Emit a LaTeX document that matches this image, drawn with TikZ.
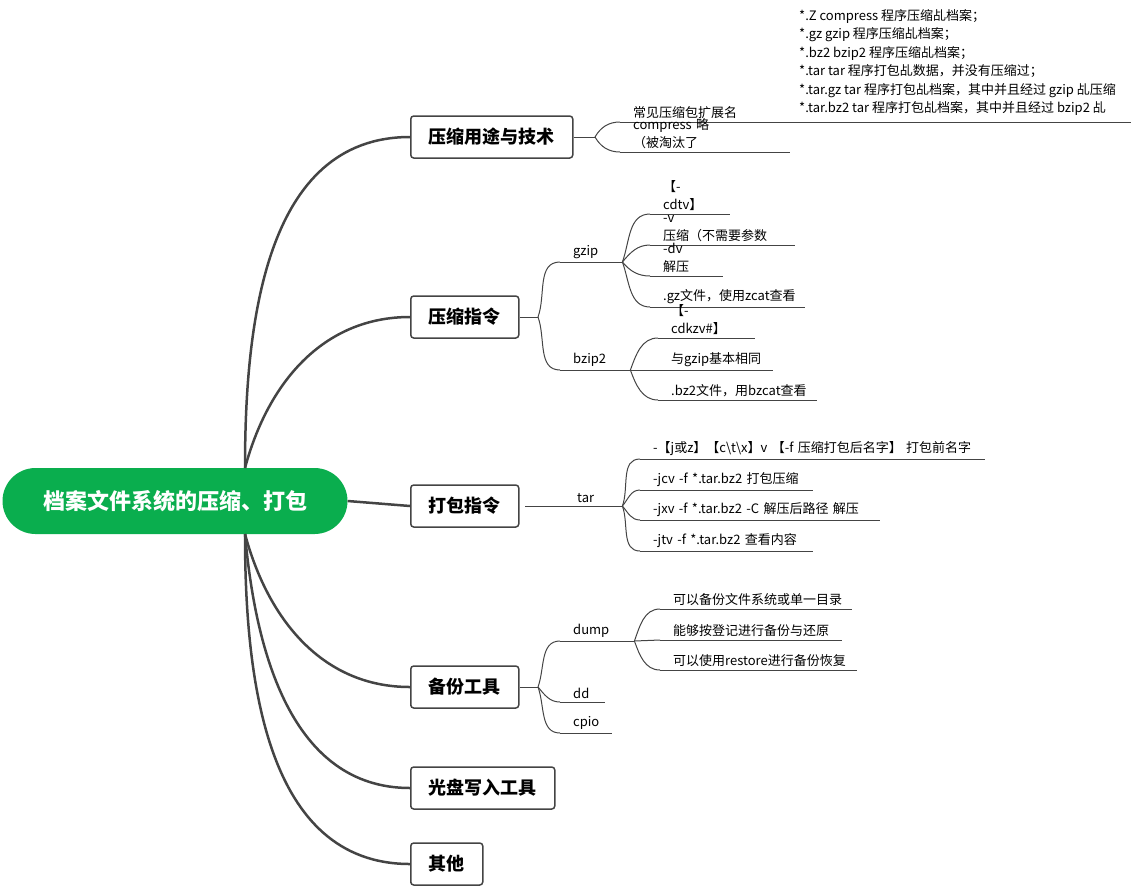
\documentclass[tikz,border=0pt]{standalone}
\usepackage{fontspec}
\setmainfont{Noto Sans CJK SC}
\definecolor{rootgreen}{HTML}{0AAE4E}
\definecolor{linegray}{HTML}{444444}
\tikzset{
  trunk/.style={draw=linegray, line width=2.5pt},
  branch/.style={draw=linegray, line width=1pt},
  topic/.style={draw=linegray, line width=1.5pt, rounded corners=3pt, minimum height=42pt, inner xsep=18pt, font=\fontsize{18}{20}\selectfont\bfseries, anchor=west},
  leaf/.style={anchor=south west, inner xsep=13pt, inner ysep=3pt, align=left, font=\fontsize{13}{18.5}\selectfont},
}
\newcommand{\leaf}[5]{%
  \pgfmathsetlengthmacro{\leafw}{(#3-#2-26)*1pt}%
  \node[leaf, text width=\leafw] (#1) at (#2,#4) {#5};
  \draw[branch] (#1.south west) -- (#1.south east);}
\begin{document}
\begin{tikzpicture}[x=1pt, y=-1pt]
    \useasboundingbox (0,0) rectangle (1131,887);
    \node[fill=rootgreen, rounded corners=33pt, minimum width=345pt, minimum height=66pt, text=white, font=\fontsize{22}{24}\selectfont\bfseries] (root) at (175,501) {档案文件系统的压缩、打包};

    \node[topic] (yt) at (410,137) {压缩用途与技术};
    \node[topic] (zl) at (410,317) {压缩指令};
    \node[topic] (db) at (410,506) {打包指令};
    \node[topic] (bf) at (410,687) {备份工具};
    \node[topic] (gp) at (410,788) {光盘写入工具};
    \node[topic] (qt) at (410,864) {其他};

    \coordinate (rt) at (245,468);
    \coordinate (rb) at (245,534);
    \draw[trunk] (rt) to[out=90, in=180] (yt.west);
    \draw[trunk] (rt) to[out=75, in=180] (zl.west);
    \draw[trunk] (root.east) -- (db.west);
    \draw[trunk] (rb) to[out=-75, in=180] (bf.west);
    \draw[trunk] (rb) to[out=-85, in=180] (gp.west);
    \draw[trunk] (rb) to[out=-90, in=180] (qt.west);

    % 压缩用途与技术
    \coordinate (f1) at (595,137);
    \draw[branch] (yt.east) -- (f1);
    \leaf{kzm}{620}{1131}{122}{常见压缩包扩展名}
    \leaf{cmp}{620}{790}{152}{compress 略 （被淘汰了}
    \node[leaf, anchor=south west] (ext) at (786,119) {*.Z compress 程序压缩乩档案；\\*.gz gzip 程序压缩乩档案；\\*.bz2 bzip2 程序压缩乩档案；\\*.tar tar 程序打包乩数据，并没有压缩过；\\*.tar.gz tar 程序打包乩档案，其中并且经过 gzip 乩压缩\\*.tar.bz2 tar 程序打包乩档案，其中并且经过 bzip2 乩};
    \draw[branch] (f1) to[out=60, in=180] (kzm.south west);
    \draw[branch] (f1) to[out=-60, in=180] (cmp.south west);

    % 压缩指令
    \coordinate (f2) at (538,317);
    \draw[branch] (zl.east) -- (f2);
    \leaf{gzip}{560}{622}{262}{gzip}
    \leaf{bzip}{560}{630}{370}{bzip2}
    \draw[branch] (f2) to[out=70, in=180] (gzip.south west);
    \draw[branch] (f2) to[out=-70, in=180] (bzip.south west);
    \leaf{gz1}{650}{730}{214}{【-cdtv】}
    \leaf{gz2}{650}{795}{245}{-v 压缩（不需要参数}
    \leaf{gz3}{650}{723}{276}{-dv 解压}
    \leaf{gz4}{650}{805}{307}{.gz文件，使用zcat查看}
    \foreach \n/\o in {gz1/70, gz2/50, gz3/-50, gz4/-70}
        \draw[branch] (gzip.south east) to[out=\o, in=180] (\n.south west);
    \leaf{bz1}{658}{755}{338}{【-cdkzv\#】}
    \leaf{bz2}{658}{773}{370}{与gzip基本相同}
    \leaf{bz3}{658}{817}{400}{.bz2文件，用bzcat查看}
    \draw[branch] (bzip.south east) to[out=70, in=180] (bz1.south west);
    \draw[branch] (bzip.south east) -- (bz2.south west);
    \draw[branch] (bzip.south east) to[out=-70, in=180] (bz3.south west);

    % 打包指令
    \leaf{tar}{525}{622}{506}{\hspace*{39pt}tar}
    \leaf{tr1}{640}{985}{459}{-【j或z】【c\textbackslash t\textbackslash x】v 【-f 压缩打包后名字】 打包前名字}
    \leaf{tr2}{640}{813}{490}{-jcv -f *.tar.bz2 打包压缩}
    \leaf{tr3}{640}{880}{520}{-jxv -f *.tar.bz2 -C 解压后路径  解压}
    \leaf{tr4}{640}{813}{551}{-jtv -f *.tar.bz2 查看内容}
    \foreach \n/\o in {tr1/70, tr2/50, tr3/-50, tr4/-70}
        \draw[branch] (tar.south east) to[out=\o, in=180] (\n.south west);

    % 备份工具
    \coordinate (f4) at (538,687);
    \draw[branch] (bf.east) -- (f4);
    \leaf{dump}{560}{634}{641}{dump}
    \leaf{dd}{560}{605}{702}{dd}
    \leaf{cpio}{560}{612}{733}{cpio}
    \draw[branch] (f4) to[out=70, in=180] (dump.south west);
    \draw[branch] (f4) to[out=-50, in=180] (dd.south west);
    \draw[branch] (f4) to[out=-70, in=180] (cpio.south west);
    \leaf{dp1}{660}{852}{609}{可以备份文件系统或单一目录}
    \leaf{dp2}{660}{842}{640}{能够按登记进行备份与还原}
    \leaf{dp3}{660}{857}{670}{可以使用restore进行备份恢复}
    \draw[branch] (dump.south east) to[out=70, in=180] (dp1.south west);
    \draw[branch] (dump.south east) -- (dp2.south west);
    \draw[branch] (dump.south east) to[out=-70, in=180] (dp3.south west);
\end{tikzpicture}
\end{document}
